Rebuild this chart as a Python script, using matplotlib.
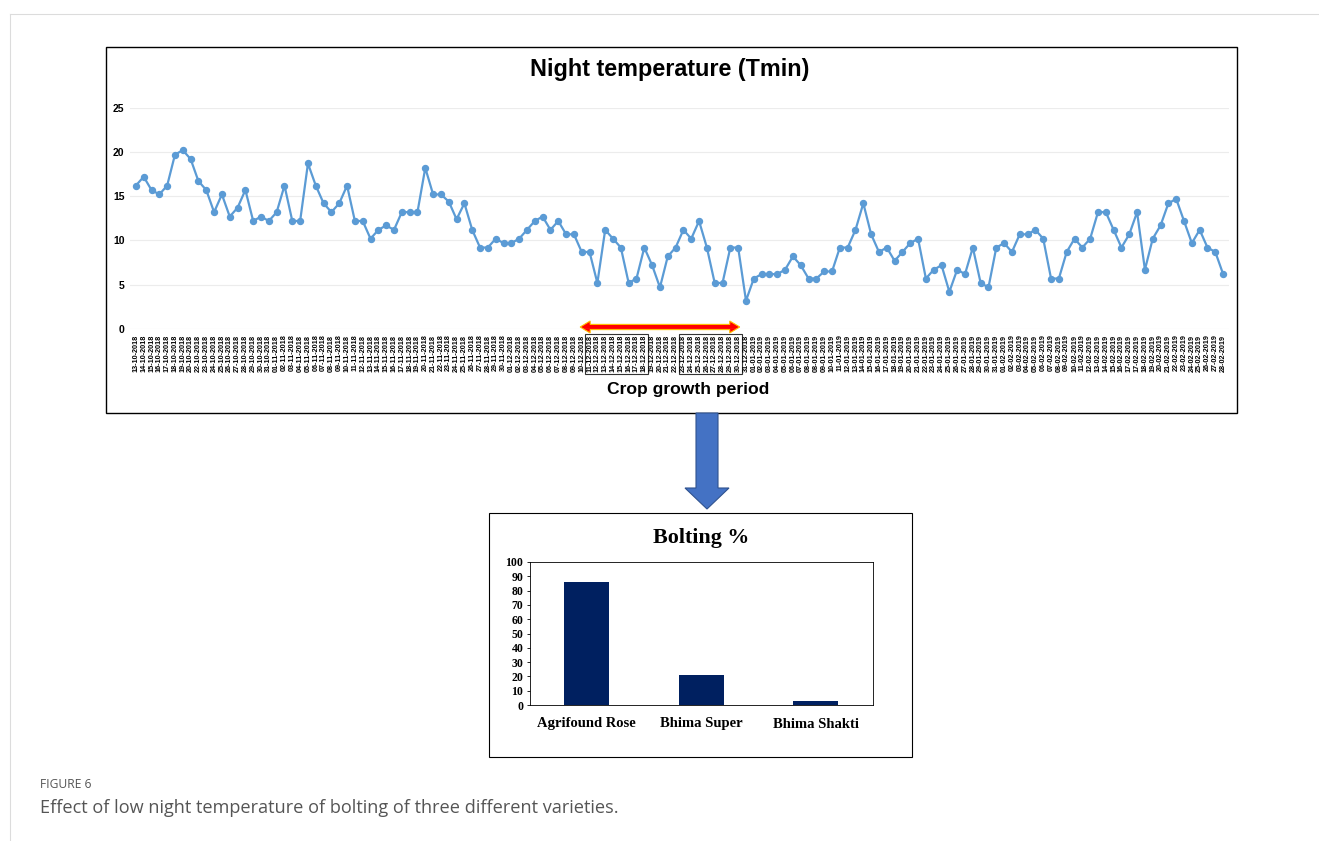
import matplotlib
matplotlib.use("Agg")
import matplotlib.pyplot as plt
from matplotlib.patches import Rectangle, Polygon
import numpy as np

# ---------------- data ----------------
oct_days = list(range(13, 21)) + list(range(22, 32))
nov_days = list(range(1, 31))
dec_days = list(range(1, 32))
jan_days = list(range(1, 9)) + [8] + list(range(9, 32))
feb_days = list(range(1, 18)) + [17] + list(range(18, 29))
date_labels = ([f"{d:02d}-10-2018" for d in oct_days] + [f"{d:02d}-11-2018" for d in nov_days]
               + [f"{d:02d}-12-2018" for d in dec_days] + [f"{d:02d}-01-2019" for d in jan_days]
               + [f"{d:02d}-02-2019" for d in feb_days])

tmin = [16.2, 17.2, 15.7, 15.2, 16.2, 19.7, 20.2, 19.2, 16.7, 15.7, 13.2, 15.2, 12.7, 13.7, 15.7, 12.2,
        12.7, 12.2, 13.2, 16.2, 12.2, 12.2, 18.7, 16.2, 14.2, 13.2,
        14.2, 16.2, 12.2, 12.2, 10.2, 11.2, 11.7, 11.2, 13.2, 13.2, 13.2, 18.2, 15.2, 15.2, 14.4, 12.4,
        14.2, 11.2, 9.2, 9.2, 10.2, 9.7, 9.7, 10.2, 11.2, 12.2, 12.7, 11.2,
        12.2, 10.7, 10.7, 8.7, 8.7, 5.2, 11.2, 10.2, 9.2, 5.2, 5.7, 9.2, 7.2, 4.7, 8.2, 9.2, 11.2, 10.2,
        12.2, 9.2, 5.2, 5.2, 9.2, 9.2, 3.2, 5.7, 6.2,
        6.2, 6.2, 6.7, 8.2, 7.2, 5.7, 5.7, 6.5, 6.5, 9.2, 9.2, 11.2, 14.2, 10.7, 8.7, 9.2, 7.7, 8.7, 9.7,
        10.2, 5.7, 6.7, 7.2, 4.2, 6.7, 6.2, 9.2, 5.2, 4.7,
        9.2, 9.7, 8.7, 10.7, 10.7, 11.2, 10.2, 5.7, 5.7, 8.7, 10.2, 9.2, 10.2, 13.2, 13.2, 11.2, 9.2,
        10.7, 13.2, 6.7, 10.2, 11.7, 14.2, 14.7, 12.2, 9.7, 11.2, 9.2, 8.7, 6.2]
y_ticks_top = [0, 5, 10, 15, 20, 25]

varieties = ["Agrifound Rose", "Bhima Super", "Bhima Shakti"]
bolting = [86, 21, 3]
y_ticks_bottom = list(range(0, 101, 10))

box1_labels = ("11-12-2018", "18-12-2018")
box2_labels = ("23-12-2018", "30-12-2018")

# ---------------- figure ----------------
W, H = 1319, 841
fig = plt.figure(figsize=(W / 100, H / 100), dpi=100)
fig.patch.set_facecolor("white")


def rect(l, t, r, b):
    return [l / W, 1 - b / H, (r - l) / W, (b - t) / H]


# overlay in pixel coordinates
ov = fig.add_axes([0, 0, 1, 1])
ov.set_xlim(0, W)
ov.set_ylim(H, 0)
ov.axis("off")

# page frame lines
ov.plot([10, W], [14, 14], color="#dcdcdc", lw=0.8)
ov.plot([10, 10], [14, H], color="#dcdcdc", lw=0.8)

# chart boxes
ov.add_patch(Rectangle((106, 47), 1237 - 106, 413 - 47, fill=False, ec="black", lw=1.0))
ov.add_patch(Rectangle((489, 513), 912 - 489, 757 - 513, fill=False, ec="black", lw=0.8))

# ---------------- top chart ----------------
AX_L, AX_R = 130, 1229
ax = fig.add_axes(rect(AX_L, 107.7, AX_R, 329))
x = np.arange(len(tmin))
XL0, XL1 = -0.75, len(tmin) - 0.25
ax.set_xlim(XL0, XL1)
ax.set_ylim(0, 25)
ax.plot(x, tmin, color="#5B9BD5", lw=1.6, marker="o", ms=4.3, mfc="#5B9BD5", mec="#5B9BD5", zorder=3)
ax.set_yticks(y_ticks_top)
ax.set_yticklabels([str(v) for v in y_ticks_top], fontsize=7.5, fontweight="bold",
                   family="Liberation Sans")
ax.set_xticks(x)
ax.set_xticklabels(date_labels, rotation=90, fontsize=5.2, fontweight="bold", family="Liberation Sans")
ax.tick_params(axis="both", length=0)
ax.tick_params(axis="x", pad=4)
ax.tick_params(axis="y", pad=4)
ax.grid(axis="y", color="#ececec", lw=0.8)
ax.set_axisbelow(True)
for s in ax.spines.values():
    s.set_visible(False)
ax.patch.set_alpha(0)


def px_x(i):
    return AX_L + (i - XL0) / (XL1 - XL0) * (AX_R - AX_L)


# label boxes
for a, b in (box1_labels, box2_labels):
    i0, i1 = date_labels.index(a), date_labels.index(b)
    l, r = px_x(i0 - 0.55), px_x(i1 + 0.45)
    ov.add_patch(Rectangle((l, 334), r - l, 40, fill=False, ec="#333333", lw=0.8))

# red double arrow
xl, xr = px_x(date_labels.index(box1_labels[0]) - 1.2), px_x(date_labels.index(box2_labels[1]) + 0.2)
yy, sh, hh, hl = 327, 2.6, 6.0, 10
pts = [(xl, yy), (xl + hl, yy - hh), (xl + hl, yy - sh), (xr - hl, yy - sh), (xr - hl, yy - hh), (xr, yy),
       (xr - hl, yy + hh), (xr - hl, yy + sh), (xl + hl, yy + sh), (xl + hl, yy + hh)]
ov.add_patch(Polygon(pts, closed=True, fc="#FF0000", ec="#FFC000", lw=0.8, zorder=5))

ov.text(670, 69, "Night temperature (Tmin)", ha="center", va="center", fontsize=16.8,
        fontweight="bold", family="Liberation Sans")
ov.text(688, 389, "Crop growth period", ha="center", va="center", fontsize=12.6,
        fontweight="bold", family="Liberation Sans")

# blue down arrow
bpts = [(696, 413), (718, 413), (718, 488), (729, 488), (707, 509), (685, 488), (696, 488)]
ov.add_patch(Polygon(bpts, closed=True, fc="#4472C4", ec="#2F528F", lw=0.8))

# ---------------- bottom chart ----------------
ax2 = fig.add_axes(rect(529.5, 562, 873, 705))
xb = np.arange(len(varieties))
ax2.bar(xb, bolting, width=0.39, color="#002060")
ax2.set_xlim(-0.5, len(varieties) - 0.5)
ax2.set_ylim(0, 100)
ax2.set_yticks(y_ticks_bottom)
ax2.set_yticklabels([str(v) for v in y_ticks_bottom], fontsize=8.5, fontweight="bold",
                    family="Liberation Serif")
ax2.set_xticks(xb)
ax2.set_xticklabels(varieties, fontsize=10.5, fontweight="bold", family="Liberation Serif")
ax2.tick_params(axis="y", length=2.5, width=0.6, pad=2)
ax2.tick_params(axis="x", length=0, pad=9)
for s in ax2.spines.values():
    s.set_linewidth(0.6)
    s.set_color("black")

ov.text(701, 538, "Bolting %", ha="center", va="center", fontsize=15.8, fontweight="bold",
        family="Liberation Serif")

# ---------------- caption ----------------
ov.text(40, 785, "FIGURE 6", ha="left", va="center", fontsize=8.7, color="#555555", family="Open Sans")
ov.text(40, 808, "Effect of low night temperature of bolting of three different varieties.",
        ha="left", va="center", fontsize=13.1, color="#555555", family="Open Sans")

fig.savefig("out.png", dpi=100, facecolor="white")
